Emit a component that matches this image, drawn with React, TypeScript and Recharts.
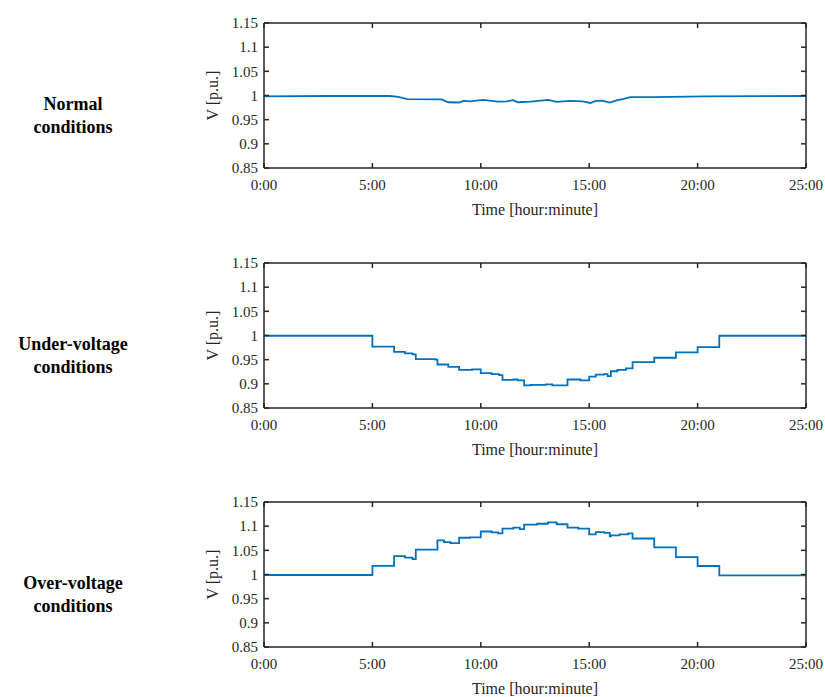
import { LineChart, Line, XAxis, YAxis } from 'recharts'

const X_TICKS = [0, 5, 10, 15, 20, 25]
const Y_TICKS = [0.85, 0.9, 0.95, 1, 1.05, 1.1, 1.15]

const NORMAL_T = [0, 3, 5.8, 6.2, 6.6, 8.2, 8.5, 9.0, 9.2, 9.5, 10.1, 10.5, 10.8, 11.2, 11.5, 11.7, 12.3, 13.1, 13.5, 14.1, 14.7, 15.05, 15.3, 15.6, 15.95, 16.3, 16.6, 16.9, 18, 20.3, 25]
const NORMAL_V = [0.998, 0.999, 0.999, 0.997, 0.9925, 0.992, 0.986, 0.9855, 0.989, 0.988, 0.991, 0.989, 0.9875, 0.988, 0.9905, 0.986, 0.9875, 0.991, 0.987, 0.989, 0.988, 0.9845, 0.989, 0.9895, 0.9855, 0.9905, 0.993, 0.9965, 0.9968, 0.998, 0.999]

const UNDER_T = [0, 5, 6, 6.5, 6.85, 7, 7.9, 8, 8.5, 9, 9.6, 10, 10.5, 10.85, 11, 11.5, 11.7, 12, 12.3, 13, 13.3, 14, 14.6, 15, 15.3, 15.7, 15.85, 16, 16.3, 16.7, 17, 18, 19, 20, 21, 25]
const UNDER_V = [0.9995, 0.977, 0.966, 0.963, 0.961, 0.951, 0.95, 0.94, 0.935, 0.929, 0.93, 0.922, 0.92, 0.918, 0.908, 0.909, 0.907, 0.897, 0.898, 0.899, 0.897, 0.909, 0.907, 0.915, 0.919, 0.92, 0.916, 0.926, 0.929, 0.932, 0.945, 0.954, 0.965, 0.976, 0.9995, 0.9995]

const OVER_T = [0, 5, 6, 6.5, 6.85, 7, 8, 8.3, 8.6, 9, 9.5, 10, 10.5, 10.8, 11, 11.5, 11.8, 12, 12.6, 13.1, 13.5, 14, 14.5, 15, 15.3, 15.7, 15.95, 16, 16.4, 16.8, 17, 18, 19, 20, 21, 25]
const OVER_V = [0.999, 1.018, 1.038, 1.035, 1.032, 1.0515, 1.0705, 1.067, 1.065, 1.076, 1.077, 1.089, 1.087, 1.085, 1.095, 1.097, 1.094, 1.103, 1.105, 1.108, 1.104, 1.097, 1.095, 1.083, 1.0875, 1.086, 1.079, 1.081, 1.083, 1.085, 1.0745, 1.056, 1.036, 1.0176, 0.998, 0.998]

const AXIS = '#262626'
const FONT = '"Liberation Serif", "DejaVu Serif", "Noto Serif", serif'

const toRows = (t: number[], v: number[]) => t.map((h, i) => ({ t: h, v: v[i] }))

function Panel({ rows, step }: { rows: { t: number; v: number }[]; step: boolean }) {
  const tick = { fill: AXIS, fontSize: 15, fontFamily: FONT }
  return (
    <LineChart width={825} height={230} data={rows} margin={{ top: 22, right: 18, bottom: 0, left: 204 }}>
      <XAxis
        xAxisId="b"
        dataKey="t"
        type="number"
        domain={[0, 25]}
        ticks={X_TICKS}
        interval={0}
        tickFormatter={(h) => `${h}:00`}
        height={62}
        tickSize={-5}
        tickMargin={16}
        tick={tick}
        stroke={AXIS}
        strokeWidth={1.5}
        label={{ value: 'Time [hour:minute]', position: 'insideBottom', offset: 15, fill: AXIS, fontSize: 16, fontFamily: FONT }}
      />
      <XAxis
        xAxisId="t"
        orientation="top"
        dataKey="t"
        type="number"
        domain={[0, 25]}
        ticks={X_TICKS}
        interval={0}
        tickFormatter={() => ''}
        height={1}
        tickSize={-5}
        stroke={AXIS}
        strokeWidth={1.5}
      />
      <YAxis
        yAxisId="l"
        type="number"
        domain={[0.85, 1.15]}
        ticks={Y_TICKS}
        interval={0}
        width={60}
        tickSize={-5}
        tickMargin={11}
        tick={tick}
        stroke={AXIS}
        strokeWidth={1.5}
        label={{ value: 'V [p.u.]', angle: -90, position: 'insideLeft', offset: 8, fill: AXIS, fontSize: 16, fontFamily: FONT, style: { textAnchor: 'middle' } }}
      />
      <YAxis
        yAxisId="r"
        orientation="right"
        type="number"
        domain={[0.85, 1.15]}
        ticks={Y_TICKS}
        interval={0}
        width={1}
        tickSize={-5}
        tickFormatter={() => ''}
        stroke={AXIS}
        strokeWidth={1.5}
      />
      <Line
        xAxisId="t"
        yAxisId="r"
        dataKey="v"
        type="linear"
        stroke="none"
        dot={false}
        activeDot={false}
        isAnimationActive={false}
      />
      <Line
        xAxisId="b"
        yAxisId="l"
        dataKey="v"
        type={step ? 'stepAfter' : 'linear'}
        stroke="#0072BD"
        strokeWidth={1.8}
        dot={false}
        isAnimationActive={false}
      />
    </LineChart>
  )
}

const labelStyle: React.CSSProperties = {
  position: 'absolute',
  left: 0,
  width: 146,
  textAlign: 'center',
  fontFamily: FONT,
  fontWeight: 'bold',
  fontSize: 18,
  lineHeight: '23px',
  color: '#000',
}

export default function App() {
  return (
    <div style={{ position: 'absolute', left: 0, top: 0, width: 825, height: 697, background: '#fff', overflow: 'hidden' }}>
      <div style={{ ...labelStyle, top: 93 }}>Normal<br />conditions</div>
      <div style={{ ...labelStyle, top: 333 }}>Under-voltage<br />conditions</div>
      <div style={{ ...labelStyle, top: 572 }}>Over-voltage<br />conditions</div>
      <div style={{ position: 'absolute', left: 0, top: 0 }}>
        <Panel rows={toRows(NORMAL_T, NORMAL_V)} step={false} />
      </div>
      <div style={{ position: 'absolute', left: 0, top: 240 }}>
        <Panel rows={toRows(UNDER_T, UNDER_V)} step />
      </div>
      <div style={{ position: 'absolute', left: 0, top: 479 }}>
        <Panel rows={toRows(OVER_T, OVER_V)} step />
      </div>
    </div>
  )
}
